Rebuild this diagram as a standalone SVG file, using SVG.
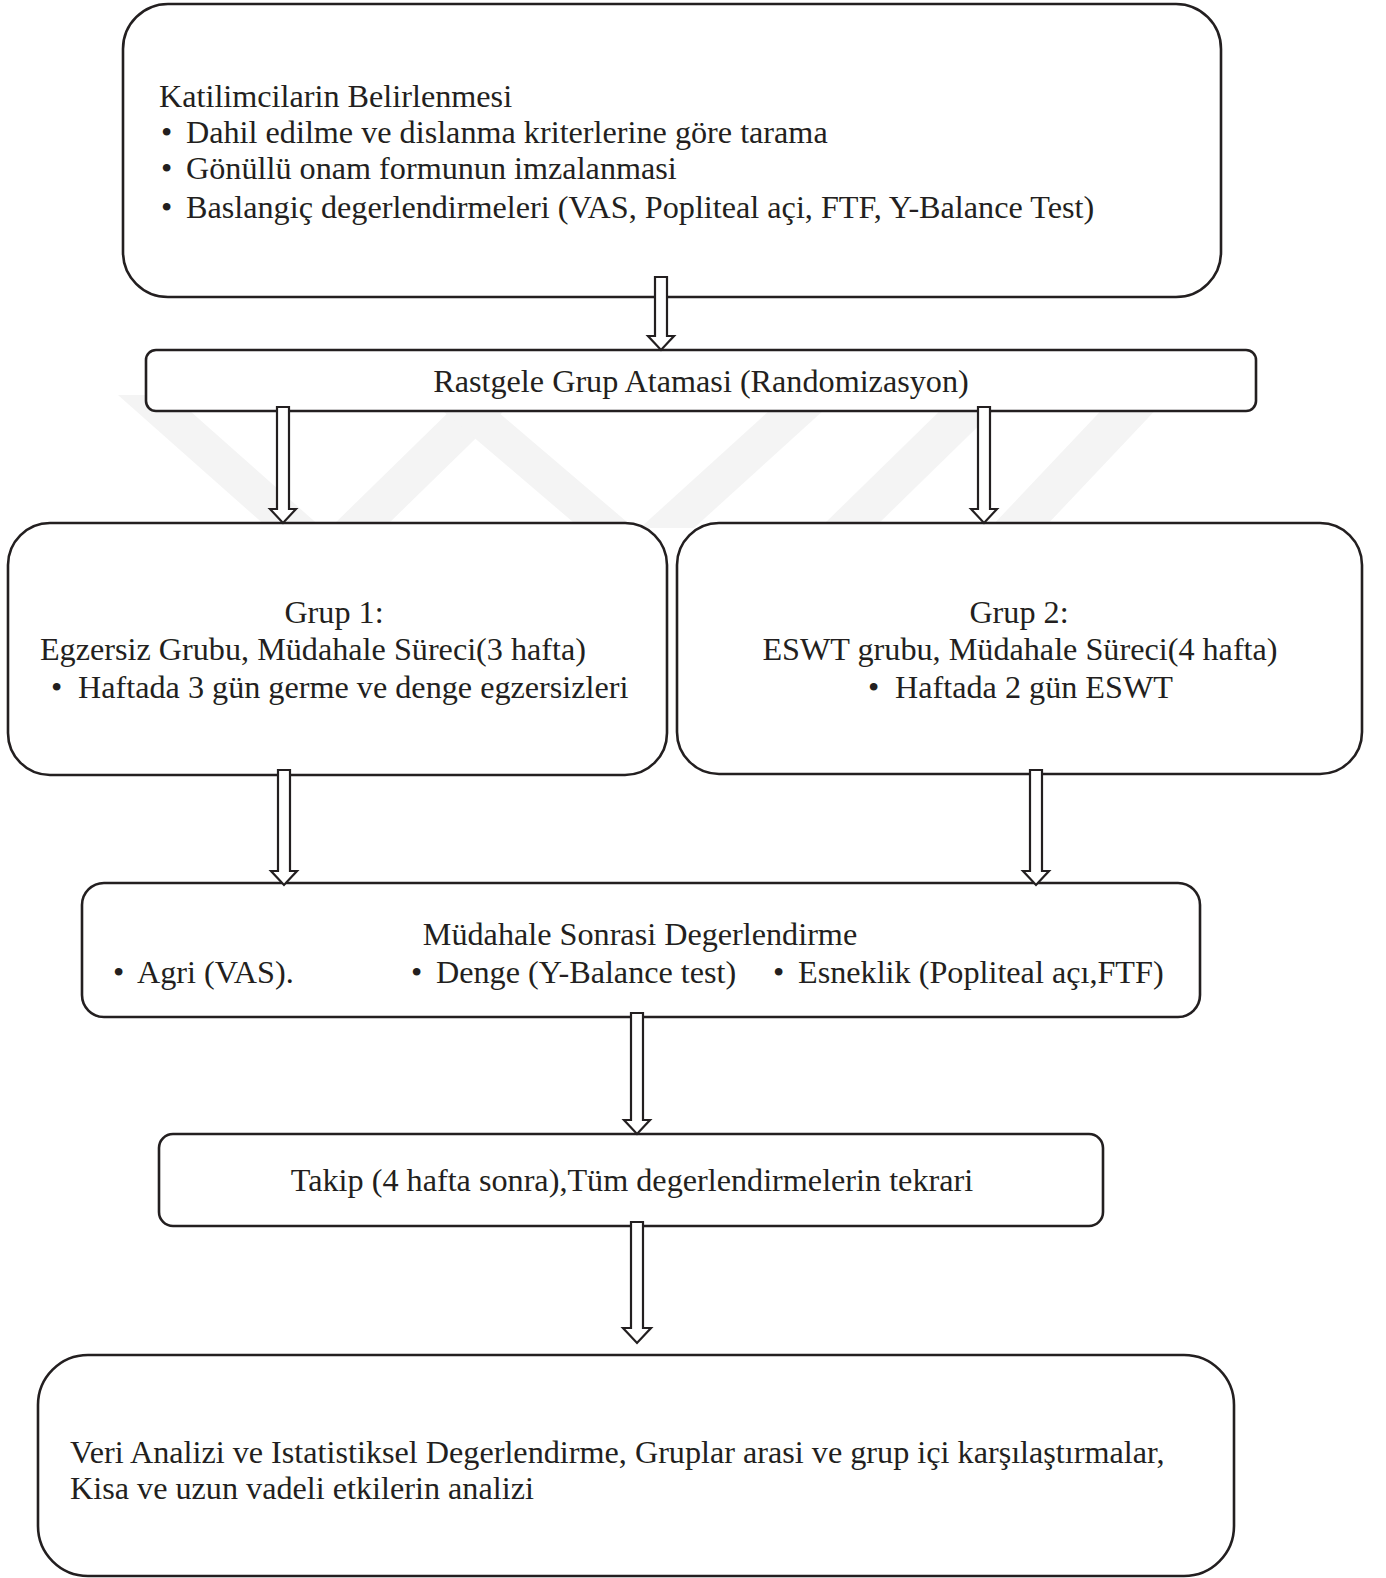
<svg xmlns="http://www.w3.org/2000/svg" width="1386" height="1578" viewBox="0 0 1386 1578">
<style>
.box{fill:#ffffff;stroke:#231f20;stroke-width:2.6}
.arr{fill:#ffffff;stroke:#231f20;stroke-width:2.2;stroke-linejoin:miter}
.t{font-family:"Liberation Serif","Times New Roman",serif;font-size:32.2px;fill:#231f20}
.c{text-anchor:middle}
.wm{fill:#f4f4f4}
</style>
<rect width="1386" height="1578" fill="#ffffff"/>
<g id="watermark">
<polygon class="wm" points="118,395 172,395 322,528 268,528"/>
<polygon class="wm" points="330,528 384,528 515,400 461,400"/>
<polygon class="wm" points="430,400 484,400 634,528 580,528"/>
<polygon class="wm" points="640,528 694,528 835,400 781,400"/>
<polygon class="wm" points="820,528 874,528 1005,400 951,400"/>
<polygon class="wm" points="990,528 1044,528 1165,400 1111,400"/>
</g>
<g id="n1">
<rect class="box" x="123" y="4" width="1098" height="293" rx="45"/>
<text class="t" x="159" y="107">Katilimcilarin Belirlenmesi</text>
<text class="t" x="161" y="143">•<tspan x="186">Dahil edilme ve dislanma kriterlerine göre tarama</tspan></text>
<text class="t" x="161" y="179">•<tspan x="186">Gönüllü onam formunun imzalanmasi</tspan></text>
<text class="t" x="161" y="218">•<tspan x="186">Baslangiç degerlendirmeleri (VAS, Popliteal açi, FTF, Y-Balance Test)</tspan></text>
</g>
<g id="n2">
<rect class="box" x="146" y="350" width="1110" height="61" rx="10"/>
<text class="t c" x="701" y="392">Rastgele Grup Atamasi (Randomizasyon)</text>
</g>
<g id="n3">
<rect class="box" x="8" y="523" width="659" height="252" rx="42"/>
<text class="t c" x="334" y="623">Grup 1:</text>
<text class="t c" x="313" y="660">Egzersiz Grubu, Müdahale Süreci(3 hafta)</text>
<text class="t" x="51" y="698">•<tspan x="78">Haftada 3 gün germe ve denge egzersizleri</tspan></text>
</g>
<g id="n4">
<rect class="box" x="677" y="523" width="685" height="251" rx="42"/>
<text class="t c" x="1019" y="623">Grup 2:</text>
<text class="t c" x="1020" y="660">ESWT grubu, Müdahale Süreci(4 hafta)</text>
<text class="t" x="868" y="698">•<tspan x="895">Haftada 2 gün ESWT</tspan></text>
</g>
<g id="n5">
<rect class="box" x="82" y="883" width="1118" height="134" rx="22"/>
<text class="t c" x="640" y="945">Müdahale Sonrasi Degerlendirme</text>
<text class="t" x="113" y="983">•<tspan x="137">Agri (VAS).</tspan></text>
<text class="t" x="411" y="983">•<tspan x="436">Denge (Y-Balance test)</tspan></text>
<text class="t" x="773" y="983">•<tspan x="798">Esneklik (Popliteal açı,FTF)</tspan></text>
</g>
<g id="n6">
<rect class="box" x="159" y="1134" width="944" height="92" rx="14"/>
<text class="t c" x="632" y="1191">Takip (4 hafta sonra),Tüm degerlendirmelerin tekrari</text>
</g>
<g id="n7">
<rect class="box" x="38" y="1355" width="1196" height="221" rx="50"/>
<text class="t" x="70" y="1463">Veri Analizi ve Istatistiksel Degerlendirme, Gruplar arasi ve grup içi karşılaştırmalar,</text>
<text class="t" x="70" y="1499">Kisa ve uzun vadeli etkilerin analizi</text>
</g>
<g id="connectors">
<polygon class="arr" points="655,277 667,277 667,336 674,336 661,350 648,336 655,336"/>
<polygon class="arr" points="277,407 289,407 289,509 296,509 283,523 270,509 277,509"/>
<polygon class="arr" points="978,407 990,407 990,509 997,509 984,523 971,509 978,509"/>
<polygon class="arr" points="278,770 290,770 290,871 297,871 284,885 271,871 278,871"/>
<polygon class="arr" points="1030,770 1042,770 1042,871 1049,871 1036,885 1023,871 1030,871"/>
<polygon class="arr" points="631,1013 643,1013 643,1120 650,1120 637,1134 624,1120 631,1120"/>
<polygon class="arr" points="631,1222 643,1222 643,1328 651,1328 637,1343 623,1328 631,1328"/>
</g>
</svg>
